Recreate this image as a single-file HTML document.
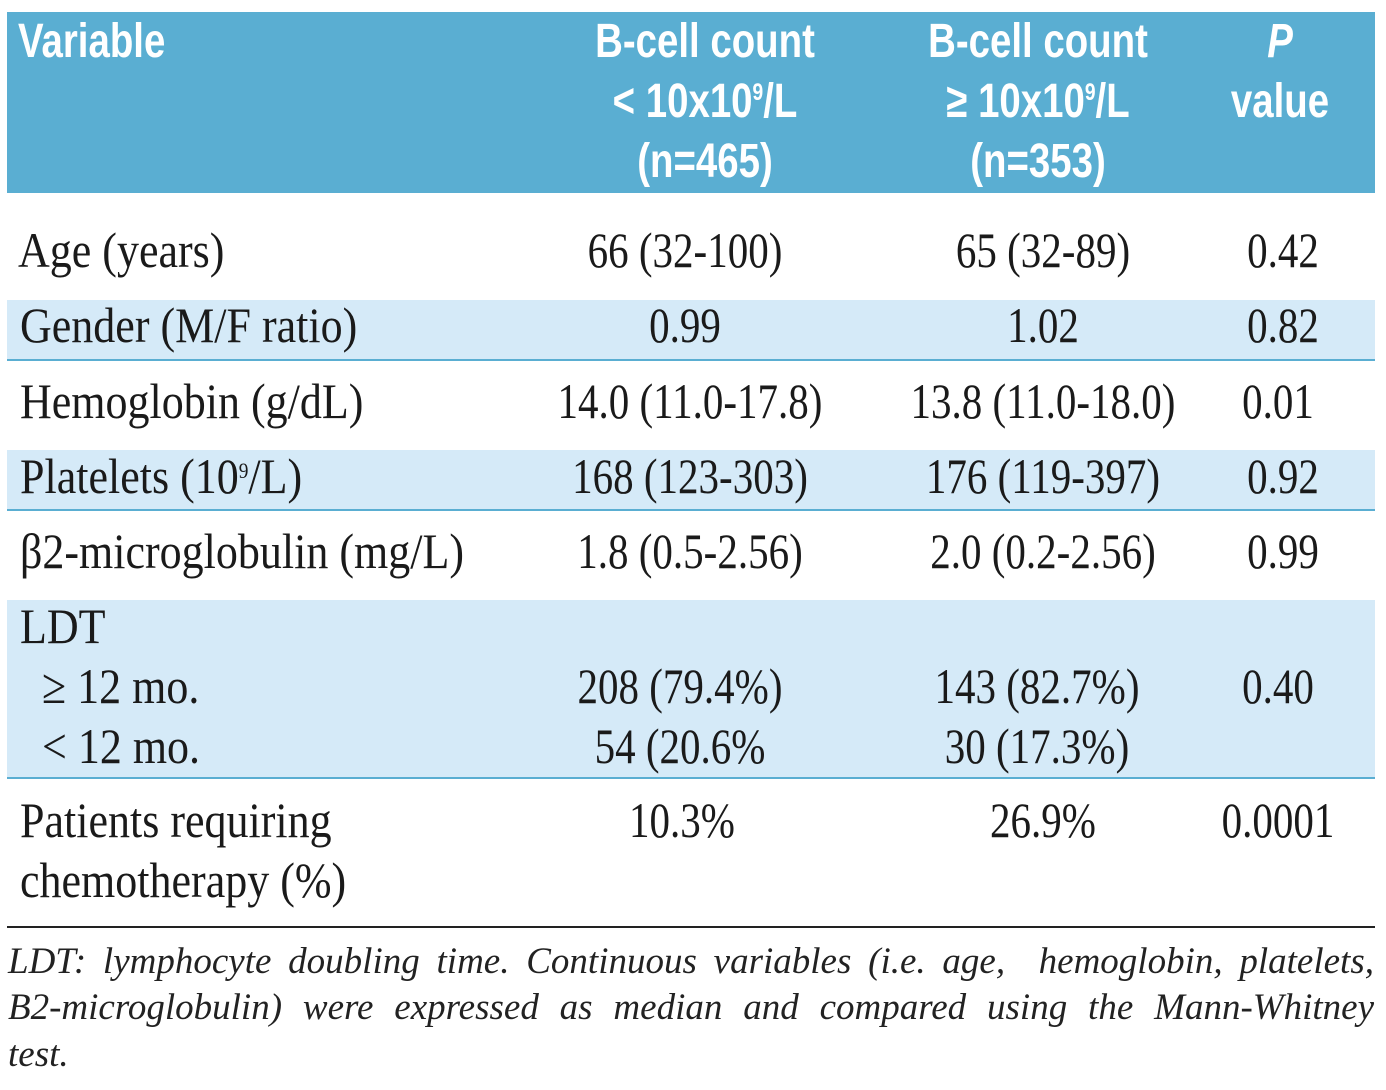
<!DOCTYPE html>
<html><head><meta charset="utf-8">
<style>
body{margin:0;width:1386px;height:1090px;background:#fff;position:relative;overflow:hidden}
.band{position:absolute;left:7px;width:1368px}
.c{position:absolute;white-space:nowrap;font-family:"Liberation Serif",serif;font-size:50px;color:#1a1a1a;line-height:60px}
.cc{width:600px;text-align:center;transform:scaleX(0.82);transform-origin:center}
.cl{transform:scaleX(0.88);transform-origin:left}
.h{font-family:"Liberation Sans",sans-serif;font-weight:bold;color:#fff;font-size:48px}
.hc{width:600px;text-align:center;transform:scaleX(0.8);transform-origin:center}
sup{line-height:0;vertical-align:0;position:relative;top:-0.7em}
.line{position:absolute;left:7px;width:1368px;height:2px;background:#5aaed2}
.fn{position:absolute;left:8px;width:1366px;font-family:"Liberation Serif",serif;font-style:italic;font-size:37px;color:#222;line-height:40px;text-align:justify;text-align-last:justify;white-space:nowrap}
</style></head><body>
<div class="band" style="top:12px;height:181px;background:#5aaed2"></div>
<div class="band" style="top:300px;height:59px;background:#d5eaf8"></div>
<div class="line" style="top:359px"></div>
<div class="band" style="top:450px;height:59px;background:#d5eaf8"></div>
<div class="line" style="top:509px"></div>
<div class="band" style="top:600px;height:177px;background:#d5eaf8"></div>
<div class="line" style="top:777px"></div>
<div style="position:absolute;left:7px;width:1368px;top:926px;height:2px;background:#222"></div>

<div class="c h" style="left:18px;top:12px;transform:scaleX(0.8);transform-origin:left">Variable</div>
<div class="c h hc" style="left:405px;top:12px">B-cell count<br>&lt; 10x10<sup style="font-size:24px">9</sup>/L<br>(n=465)</div>
<div class="c h hc" style="left:738px;top:12px">B-cell count<br>≥ 10x10<sup style="font-size:24px">9</sup>/L<br>(n=353)</div>
<div class="c h hc" style="left:980px;top:12px"><i>P</i><br>value</div>

<div class="c cl" style="left:18px;top:220px">Age (years)</div>
<div class="c cc" style="left:385px;top:220px">66 (32-100)</div>
<div class="c cc" style="left:743px;top:220px">65 (32-89)</div>
<div class="c cc" style="left:983px;top:220px">0.42</div>

<div class="c cl" style="left:20px;top:295px">Gender (M/F ratio)</div>
<div class="c cc" style="left:385px;top:295px">0.99</div>
<div class="c cc" style="left:743px;top:295px">1.02</div>
<div class="c cc" style="left:983px;top:295px">0.82</div>

<div class="c cl" style="left:20px;top:371px">Hemoglobin (g/dL)</div>
<div class="c cc" style="left:390px;top:371px">14.0 (11.0-17.8)</div>
<div class="c cc" style="left:743px;top:371px">13.8 (11.0-18.0)</div>
<div class="c cc" style="left:978px;top:371px">0.01</div>

<div class="c cl" style="left:20px;top:446px">Platelets (10<sup style="font-size:22px">9</sup>/L)</div>
<div class="c cc" style="left:390px;top:446px">168 (123-303)</div>
<div class="c cc" style="left:743px;top:446px">176 (119-397)</div>
<div class="c cc" style="left:983px;top:446px">0.92</div>

<div class="c cl" style="left:20px;top:521px">β2-microglobulin (mg/L)</div>
<div class="c cc" style="left:390px;top:521px">1.8 (0.5-2.56)</div>
<div class="c cc" style="left:743px;top:521px">2.0 (0.2-2.56)</div>
<div class="c cc" style="left:983px;top:521px">0.99</div>

<div class="c cl" style="left:20px;top:596px">LDT<br>&nbsp; ≥ 12 mo.<br>&nbsp; &lt; 12 mo.</div>
<div class="c cc" style="left:380px;top:656px">208 (79.4%)<br>54 (20.6%</div>
<div class="c cc" style="left:737px;top:656px">143 (82.7%)<br>30 (17.3%)</div>
<div class="c cc" style="left:978px;top:656px">0.40</div>

<div class="c cl" style="left:20px;top:790px">Patients requiring<br>chemotherapy (%)</div>
<div class="c cc" style="left:382px;top:790px">10.3%</div>
<div class="c cc" style="left:743px;top:790px">26.9%</div>
<div class="c cc" style="left:978px;top:790px">0.0001</div>

<div class="fn" style="top:942px">LDT: lymphocyte doubling time. Continuous variables (i.e. age,&nbsp; hemoglobin, platelets,</div>
<div class="fn" style="top:988px">B2-microglobulin) were expressed as median and compared using the Mann-Whitney</div>
<div class="fn" style="top:1035px;text-align-last:left">test.</div>
</body></html>
